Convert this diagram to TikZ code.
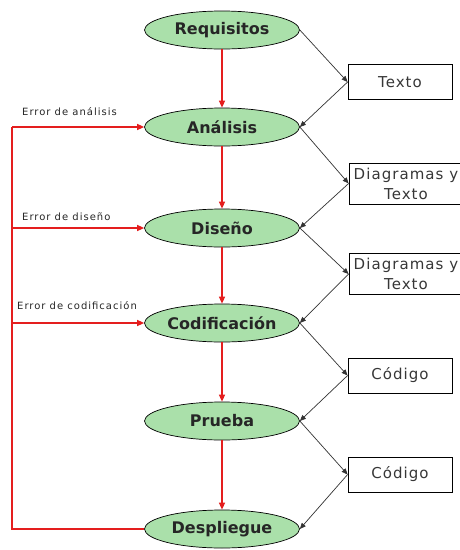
\documentclass[tikz,border=0pt]{standalone}
\usepackage{fontspec}
\setmainfont{DejaVu Sans}
\newfontfamily\ellfont{DejaVu Sans}
\newfontfamily\boxfont[LetterSpace=7]{DejaVu Sans}
\newfontfamily\lblfont[LetterSpace=10]{DejaVu Sans}
\usetikzlibrary{shapes.geometric,arrows.meta}
\definecolor{ellfill}{RGB}{170,224,170}
\definecolor{redline}{RGB}{228,30,30}
\definecolor{txtgray}{RGB}{55,55,55}
\begin{document}
\begin{tikzpicture}[x=1pt,y=-1pt,
  phase/.style={ellipse,draw=black,line width=0.7pt,fill=ellfill,minimum width=155pt,minimum height=38pt,inner sep=0pt,font=\ellfont\bfseries\fontsize{16}{18}\selectfont,text=black!85},
  doc/.style={rectangle,draw=black,line width=0.8pt,fill=white,minimum width=104pt,minimum height=35pt,inner sep=1pt,align=center,font=\boxfont\fontsize{15}{20}\selectfont,text=txtgray},
  widedoc/.style={doc,minimum width=114pt,minimum height=41pt},
  flow/.style={draw=redline,line width=1.3pt,-{Triangle[width=6pt,length=7pt]}},
  fb/.style={draw=redline,line width=1.3pt},
  io/.style={draw=black!80,line width=0.7pt,-{Triangle[width=5pt,length=6pt]}},
  errlbl/.style={anchor=west,inner sep=0pt,font=\lblfont\fontsize{10}{12}\selectfont,text=black!85}
]
\useasboundingbox (0,0) rectangle (459,550);
\fill[white] (0,0) rectangle (459,550);

\node[phase] (req) at (222,30) {Requisitos};
\node[phase] (ana) at (222,127) {Análisis};
\node[phase] (dis) at (222,228) {Diseño};
\node[phase] (cod) at (222,323) {Codificación};
\node[phase] (pru) at (222,421) {Prueba};
\node[phase] (des) at (222,529) {Despliegue};

\node[doc] (t1) at (400,82) {Texto};
\node[widedoc] (t2) at (406,183.5) {Diagramas y\\Texto};
\node[widedoc] (t3) at (406,274) {Diagramas y\\Texto};
\node[doc] (t4) at (400,375.5) {Código};
\node[doc] (t5) at (400,474.5) {Código};

\draw[flow] (req) -- (ana);
\draw[flow] (ana) -- (dis);
\draw[flow] (dis) -- (cod);
\draw[flow] (cod) -- (pru);
\draw[flow] (pru) -- (des);

\draw[io] (req.east) -- (t1.west);
\draw[io] (t1.west) -- (ana.east);
\draw[io] (ana.east) -- (t2.west);
\draw[io] (t2.west) -- (dis.east);
\draw[io] (dis.east) -- (t3.west);
\draw[io] (t3.west) -- (cod.east);
\draw[io] (cod.east) -- (t4.west);
\draw[io] (t4.west) -- (pru.east);
\draw[io] (pru.east) -- (t5.west);
\draw[io] (t5.west) -- (des.east);

\coordinate (fbB) at (12,529);
\coordinate (fbA) at (12,127);
\coordinate (fbD) at (12,228);
\coordinate (fbC) at (12,323);
\draw[fb,line join=miter] (des.west) -- (fbB) -- (fbA);
\draw[flow] (fbA) -- (ana.west);
\draw[flow] (fbD) -- (dis.west);
\draw[flow] (fbC) -- (cod.west);

\node[errlbl] (e1) at (22,112) {Error de análisis};
\node[errlbl] (e2) at (22,217) {Error de diseño};
\node[errlbl] (e3) at (17,306) {Error de codificación};
\end{tikzpicture}
\end{document}
